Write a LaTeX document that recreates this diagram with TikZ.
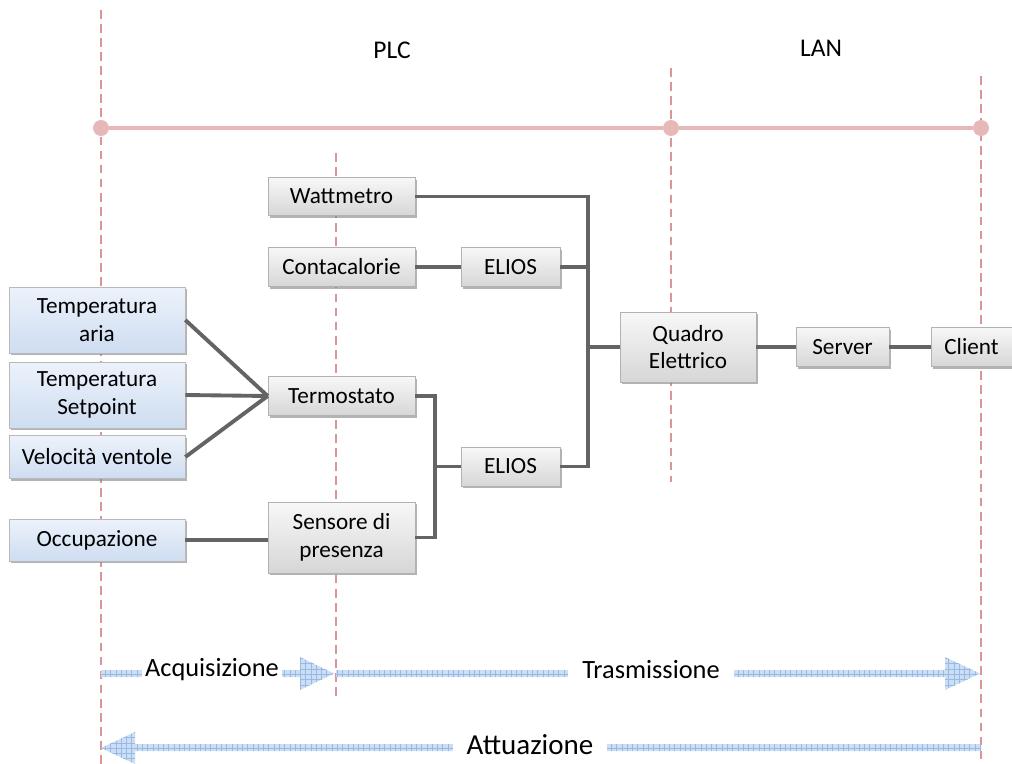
\documentclass[tikz,border=0pt]{standalone}
\usepackage{fontspec}
\setmainfont{Carlito}
\usetikzlibrary{positioning}
\usetikzlibrary{calc}
\usetikzlibrary{patterns}
\usetikzlibrary{shadows}
\definecolor{colorPhase}{RGB}{217,150,148}
\definecolor{colorBus}{RGB}{230,185,184}
\definecolor{colorWire}{RGB}{100,100,100}
\definecolor{colorArrow}{RGB}{205,221,243}
\definecolor{colorHatch}{RGB}{150,186,230}
\definecolor{colorSensTop}{RGB}{236,242,251}
\definecolor{colorSensBot}{RGB}{206,221,241}
\tikzset{
   every path/.style={>=stealth},
   phase/.style={color=colorPhase,line width=1.1pt,dash pattern=on 5pt off 3pt},
   bus/.style={color=colorBus,line width=1.8pt},
   busdot/.style={circle,fill=colorBus,inner sep=0pt,minimum size=0.32cm},
   wire/.style={-,color=colorWire,line width=2.2pt},
   devbox/.style={rectangle,draw=gray!60,top color=gray!6,bottom color=gray!32,
     drop shadow={shadow xshift=1.2pt,shadow yshift=-1.2pt,opacity=.6},
     font=\fontsize{13.2}{15.8}\selectfont,align=center,inner sep=0pt},
   sensbox/.style={devbox,draw=gray!55,top color=colorSensTop,bottom color=colorSensBot},
   fatarrow/.style={preaction={fill=colorArrow},pattern=grid,pattern color=colorHatch},
   phaselab/.style={fill=white,inner ysep=2pt,font=\fontsize{15}{18}\selectfont},
   netlab/.style={font=\fontsize{14.5}{17}\selectfont},
}

\begin{document}
\begin{tikzpicture}[x=0.02cm,y=-0.02cm]
  \useasboundingbox (0,0) rectangle (1012,764);

  % phase borders
  \coordinate (acqTop)   at (101, 10);  \coordinate (acqBot)   at (101,764);
  \coordinate (plcTop)   at (336,153);  \coordinate (plcBot)   at (336,700);
  \coordinate (lanTop)   at (671, 68);  \coordinate (lanBot)   at (671,482);
  \coordinate (cliTop)   at (981, 76);  \coordinate (cliBot)   at (981,764);

  \draw[phase] (acqTop) -- (acqBot);
  \draw[phase] (plcTop) -- (plcBot);
  \draw[phase] (lanTop) -- (lanBot);
  \draw[phase] (cliTop) -- (cliBot);

  \node[busdot] (d1) at (101,128) {};
  \node[busdot] (d2) at (671,128) {};
  \node[busdot] (d3) at (981,128) {};
  \draw[bus] (d1) -- (d2) -- (d3);

  \node[netlab] (plc) at (392,50) {PLC};
  \node[netlab] (lan) at (821,48) {LAN};

  \node[sensbox,minimum width=3.52cm,minimum height=1.32cm] (taria) at (97,320)   {Temperatura\\aria};
  \node[sensbox,minimum width=3.52cm,minimum height=1.32cm] (tset)  at (97,395)   {Temperatura\\Setpoint};
  \node[sensbox,minimum width=3.52cm,minimum height=0.86cm] (vent)  at (97,457)   {Velocità ventole};
  \node[sensbox,minimum width=3.52cm,minimum height=0.84cm] (occ)   at (97,540)   {Occupazione};

  \node[devbox,minimum width=2.94cm,minimum height=0.76cm] (watt)  at (341.5,196.5) {Wattmetro};
  \node[devbox,minimum width=2.94cm,minimum height=0.78cm] (cont)  at (341.5,267)   {Contacalorie};
  \node[devbox,minimum width=2.94cm,minimum height=0.78cm] (term)  at (341.5,396)   {Termostato};
  \node[devbox,minimum width=2.94cm,minimum height=1.42cm] (pres)  at (341.5,537.5) {Sensore di\\presenza};
  \node[devbox,minimum width=1.98cm,minimum height=0.78cm] (elA)   at (510.5,267)   {ELIOS};
  \node[devbox,minimum width=1.98cm,minimum height=0.78cm] (elB)   at (510.5,466.5) {ELIOS};
  \node[devbox,minimum width=2.72cm,minimum height=1.40cm] (quad)  at (688,347)     {Quadro\\Elettrico};
  \node[devbox,minimum width=1.86cm,minimum height=0.78cm] (serv)  at (842.5,347)   {Server};
  \node[devbox,minimum width=1.62cm,minimum height=0.78cm] (cli)   at (971.5,347)   {Client};

  \coordinate (busR) at (588,0);
  \coordinate (busL) at (435,0);

  \draw[wire] (taria.east) -- (term.west);
  \draw[wire] (tset.east)  -- (term.west);
  \draw[wire] (vent.east)  -- (term.west);
  \draw[wire] (occ.east)   -- (pres.west |- occ.east);
  \draw[wire] (cont.east)  -- (elA.west);
  \draw[wire] (term.east) -- (term.east -| busL) -- (pres.east -| busL) -- (pres.east);
  \draw[wire] (elB.west -| busL) -- (elB.west);
  \draw[wire] (watt.east) -- (watt.east -| busR) -- (elB.east -| busR) -- (elB.east);
  \draw[wire] (elA.east) -- (elA.east -| busR);
  \draw[wire] (quad.west -| busR) -- (quad.west);
  \draw[wire] (quad.east) -- (serv.west);
  \draw[wire] (serv.east) -- (cli.west);

  % phases
  \fill[fatarrow] (101,670) -- (300,670) -- (300,657) -- (334,673.5) -- (300,690)
    -- (300,677) -- (101,677) -- cycle;
  \fill[fatarrow] (336,670) -- (945,670) -- (945,657) -- (980,673.5) -- (945,690)
    -- (945,677) -- (336,677) -- cycle;
  \fill[fatarrow] (981,744) -- (135,744) -- (135,732) -- (101,748) -- (135,764)
    -- (135,751) -- (981,751) -- cycle;

  \node[phaselab,inner xsep=2pt] (acq) at (212,670) {Acquisizione};
  \node[phaselab,inner xsep=8pt] (tra) at (651,670) {Trasmissione};
  \node[phaselab,inner xsep=8pt,font=\fontsize{16.5}{19}\selectfont] (att) at (530,745) {Attuazione};
\end{tikzpicture}
\end{document}
